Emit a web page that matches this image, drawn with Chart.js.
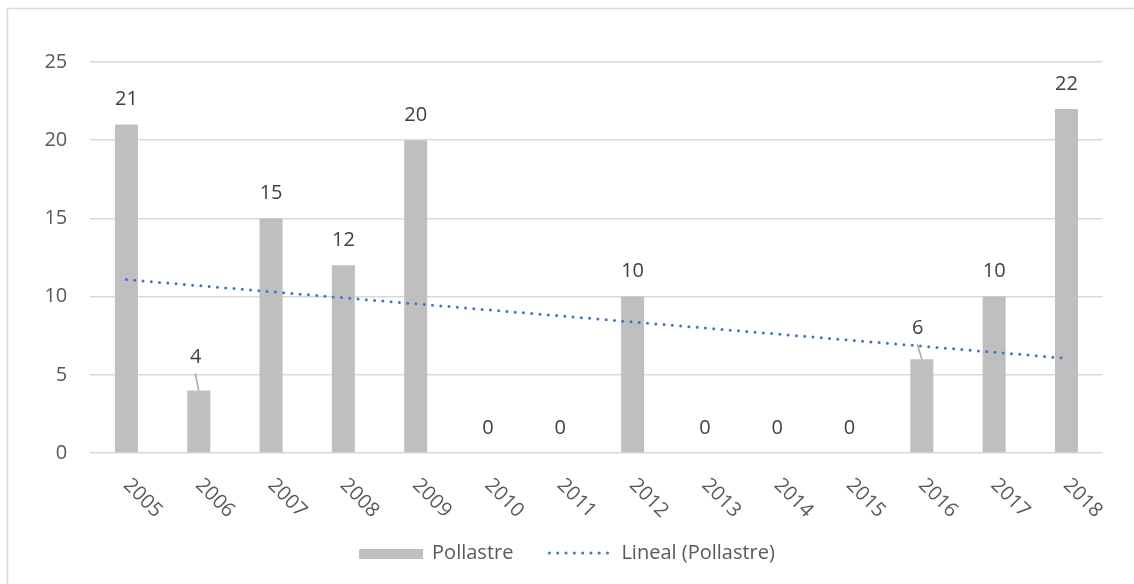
<!DOCTYPE html>
<html>
<head>
<meta charset="utf-8">
<script src="https://cdn.jsdelivr.net/npm/chart.js@4.4.1/dist/chart.umd.min.js"></script>
<style>
  html, body { margin: 0; padding: 0; background: #fff; }
  #wrap { width: 1134px; height: 584px; position: relative; }
</style>
</head>
<body>
<div id="wrap"><canvas id="chart" width="1134" height="584"></canvas></div>
<script>
// yearly counts
const years = ['2005', '2006', '2007', '2008', '2009', '2010', '2011', '2012', '2013', '2014', '2015', '2016', '2017', '2018'];
const pollastre = [21, 4, 15, 12, 20, 0, 0, 10, 0, 0, 0, 6, 10, 22];
const yTicks = [0, 5, 10, 15, 20, 25];

const seriesName = 'Pollastre';
const trendName = 'Lineal (Pollastre)';

// least squares fit over the bar values (x = 1..n), same as a linear trendline
function linearTrend(values) {
  const n = values.length;
  let sx = 0, sy = 0, sxy = 0, sxx = 0;
  values.forEach((v, i) => {
    const x = i + 1;
    sx += x; sy += v; sxy += x * v; sxx += x * x;
  });
  const slope = (n * sxy - sx * sy) / (n * sxx - sx * sx);
  const icpt = (sy - slope * sx) / n;
  return values.map((_, i) => icpt + slope * (i + 1));
}

const FONT = '"Open Sans", "Noto Sans", sans-serif';
const FONT_SIZE = 20;
const BAR_GREY = '#bfbfbf';
const TREND_BLUE = '#4472c4';
const BAR_DS = 1;

// labels that sit on the trendline get lifted and tied back with a leader line
const liftedLabels = { 1: { dx: -3, dy: 8 }, 11: { dx: -4, dy: 6 } };

const decorPlugin = {
  id: 'decor',
  beforeDraw(chart) {
    const ctx = chart.ctx;
    ctx.save();
    ctx.strokeStyle = '#d9d9d9';
    ctx.lineWidth = 1.5;
    ctx.strokeRect(7.5, 8.5, chart.width + 20, chart.height + 20);
    ctx.restore();
  },
  afterDraw(chart) {
    const ctx = chart.ctx;
    const xs = chart.scales.x;
    const area = chart.chartArea;

    // rotated year labels, reading downwards
    ctx.save();
    ctx.font = FONT_SIZE + 'px ' + FONT;
    ctx.fillStyle = '#595959';
    ctx.textAlign = 'left';
    ctx.textBaseline = 'middle';
    years.forEach((y, i) => {
      const x = xs.getPixelForValue(i);
      ctx.save();
      ctx.translate(x, area.bottom + 29);
      ctx.rotate(Math.PI / 4);
      ctx.fillText(y, 0, 0);
      ctx.restore();
    });
    ctx.restore();

    // legend along the bottom
    ctx.save();
    ctx.font = FONT_SIZE + 'px ' + FONT;
    ctx.fillStyle = '#595959';
    ctx.textBaseline = 'middle';
    const w1 = ctx.measureText(seriesName).width;
    const w2 = ctx.measureText(trendName).width;
    const total = 64 + 9 + w1 + 35 + 66 + 7 + w2;
    let lx = chart.width / 2 - total / 2;
    const ly = 553;
    ctx.fillStyle = BAR_GREY;
    ctx.fillRect(lx, ly - 4, 64, 10);
    lx += 64 + 9;
    ctx.fillStyle = '#595959';
    ctx.fillText(seriesName, lx, ly);
    lx += w1 + 35;
    ctx.strokeStyle = TREND_BLUE;
    ctx.lineWidth = 3;
    ctx.lineCap = 'round';
    ctx.setLineDash([0, 8.3]);
    ctx.beginPath();
    ctx.moveTo(lx + 1, ly);
    ctx.lineTo(lx + 66, ly);
    ctx.stroke();
    ctx.setLineDash([]);
    lx += 66 + 7;
    ctx.fillText(trendName, lx, ly);
    ctx.restore();
  },
  afterDatasetsDraw(chart) {
    // value labels above the bars
    const ctx = chart.ctx;
    const meta = chart.getDatasetMeta(BAR_DS);
    ctx.save();
    ctx.font = FONT_SIZE + 'px ' + FONT;
    ctx.fillStyle = '#404040';
    ctx.textAlign = 'center';
    ctx.textBaseline = 'middle';
    meta.data.forEach((bar, i) => {
      const lift = liftedLabels[i];
      const tx = bar.x + (lift ? lift.dx : 0);
      const ty = bar.y - 25 - (lift ? lift.dy : 0);
      ctx.fillText(String(pollastre[i]), tx, ty);
      if (lift) {
        ctx.strokeStyle = '#a6a6a6';
        ctx.lineWidth = 1.5;
        ctx.beginPath();
        ctx.moveTo(tx - 0.5, ty + 16);
        ctx.lineTo(bar.x, bar.y);
        ctx.stroke();
      }
    });
    ctx.restore();
  }
};

new Chart(document.getElementById('chart'), {
  data: {
    labels: years,
    datasets: [
      {
        type: 'line',
        label: trendName,
        data: linearTrend(pollastre),
        borderColor: TREND_BLUE,
        borderWidth: 3,
        borderDash: [0, 8.3],
        borderCapStyle: 'round',
        pointRadius: 0,
        fill: false,
        order: 0
      },
      {
        type: 'bar',
        label: seriesName,
        data: pollastre,
        backgroundColor: BAR_GREY,
        borderWidth: 0,
        barPercentage: 0.318,
        categoryPercentage: 1,
        order: 1
      }
    ]
  },
  options: {
    responsive: false,
    animation: false,
    layout: { padding: { left: 0, top: 62, right: 31.4, bottom: 131 } },
    plugins: {
      legend: { display: false },
      tooltip: { enabled: false }
    },
    scales: {
      x: {
        grid: { display: false },
        border: { display: false },
        ticks: { display: false },
        afterFit(scale) { scale.height = 0; }
      },
      y: {
        min: 0,
        max: 25,
        afterBuildTicks(scale) { scale.ticks = yTicks.map(v => ({ value: v })); },
        afterFit(scale) { scale.width = 90.3; },
        grid: { color: '#d9d9d9', lineWidth: 1.5, drawTicks: false },
        border: { display: false },
        ticks: {
          padding: 23,
          color: '#595959',
          font: { family: FONT, size: FONT_SIZE }
        }
      }
    }
  },
  plugins: [decorPlugin]
});
</script>
</body>
</html>
